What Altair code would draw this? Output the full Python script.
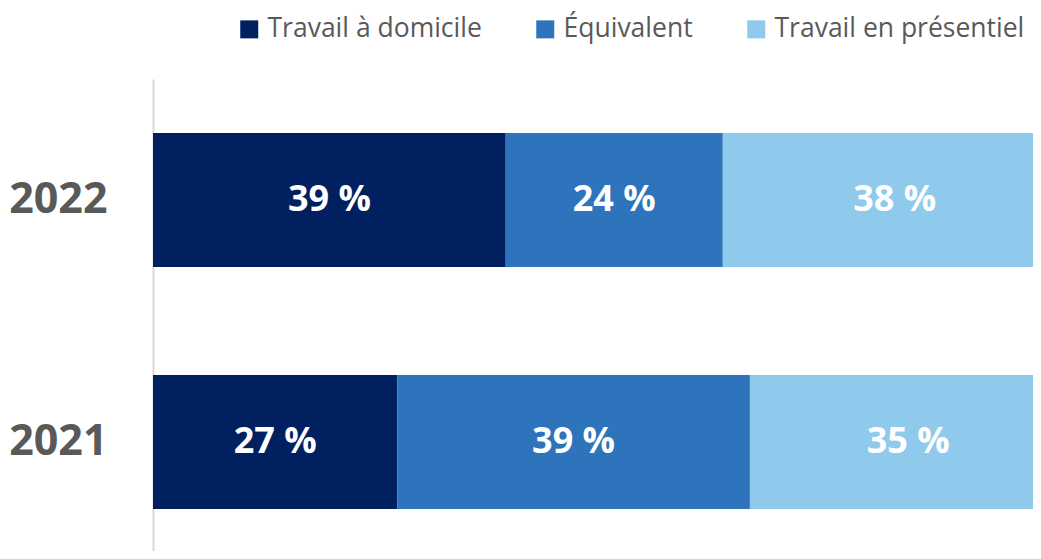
import altair as alt
import pandas as pd

years = ["2022", "2022", "2022", "2021", "2021", "2021"]
categories = ["Travail à domicile", "Équivalent", "Travail en présentiel"] * 2
values = [39, 24, 38, 27, 39, 35]
cat_order = ["Travail à domicile", "Équivalent", "Travail en présentiel"]
colors = ["#002060", "#2E74BD", "#8FCAEC"]
year_order = ["2022", "2021"]

df = pd.DataFrame({"year": years, "cat": categories, "value": values})
df["ord"] = df["cat"].map({c: i for i, c in enumerate(cat_order)})
df["label"] = df["value"].astype(str) + " %"

FONT = "Open Sans"

base = alt.Chart(df).transform_stack(
    stack="value", groupby=["year"], as_=["x0", "x1"],
    sort=[alt.SortField("ord", order="ascending")]
)

yscale = alt.Scale(paddingInner=0.446, paddingOuter=0.198, align=0.563)
yenc = alt.Y(
    "year:N", sort=year_order, title=None, scale=yscale,
    axis=alt.Axis(
        labelFont=FONT, labelFontSize=43, labelFontWeight="bold",
        labelColor="#595959", labelPadding=46, ticks=False,
        domainColor="#D9D9D9", domainWidth=2, grid=False,
    ),
)
xscale = alt.Scale(domain=[0, 97.3], nice=False, zero=True)

bars = base.mark_bar(clip=True).encode(
    x=alt.X("x0:Q", scale=xscale, axis=None),
    x2="x1:Q",
    y=yenc,
    color=alt.Color(
        "cat:N", sort=cat_order,
        scale=alt.Scale(domain=cat_order, range=colors),
        legend=alt.Legend(
            title=None, orient="none", direction="horizontal", columns=3,
            legendX=83, legendY=-63, padding=0,
            symbolType="square", symbolSize=324, symbolStrokeWidth=0,
            symbolOpacity=1, labelFont=FONT, labelFontSize=26.5,
            labelColor="#595959", labelOffset=5, columnPadding=50,
            labelLimit=500,
        ),
    ),
)

texts = base.transform_calculate(mid="(datum.x0 + datum.x1) / 2").mark_text(
    font=FONT, fontSize=36, fontWeight="bold", color="white",
    align="center", baseline="middle",
).encode(
    x=alt.X("mid:Q", scale=xscale, axis=None),
    y=alt.Y("year:N", sort=year_order, scale=yscale),
    text="label:N",
)

chart = (bars + texts).properties(
    width=880, height=472,
    autosize=alt.AutoSizeParams(type="none"),
    padding={"left": 145, "top": 71, "right": 0, "bottom": 0},
).configure(
    background="white",
    view=alt.ViewConfig(stroke="transparent", strokeWidth=0),
)

chart.save("out.html", embed_options={"renderer": "svg", "actions": False})
